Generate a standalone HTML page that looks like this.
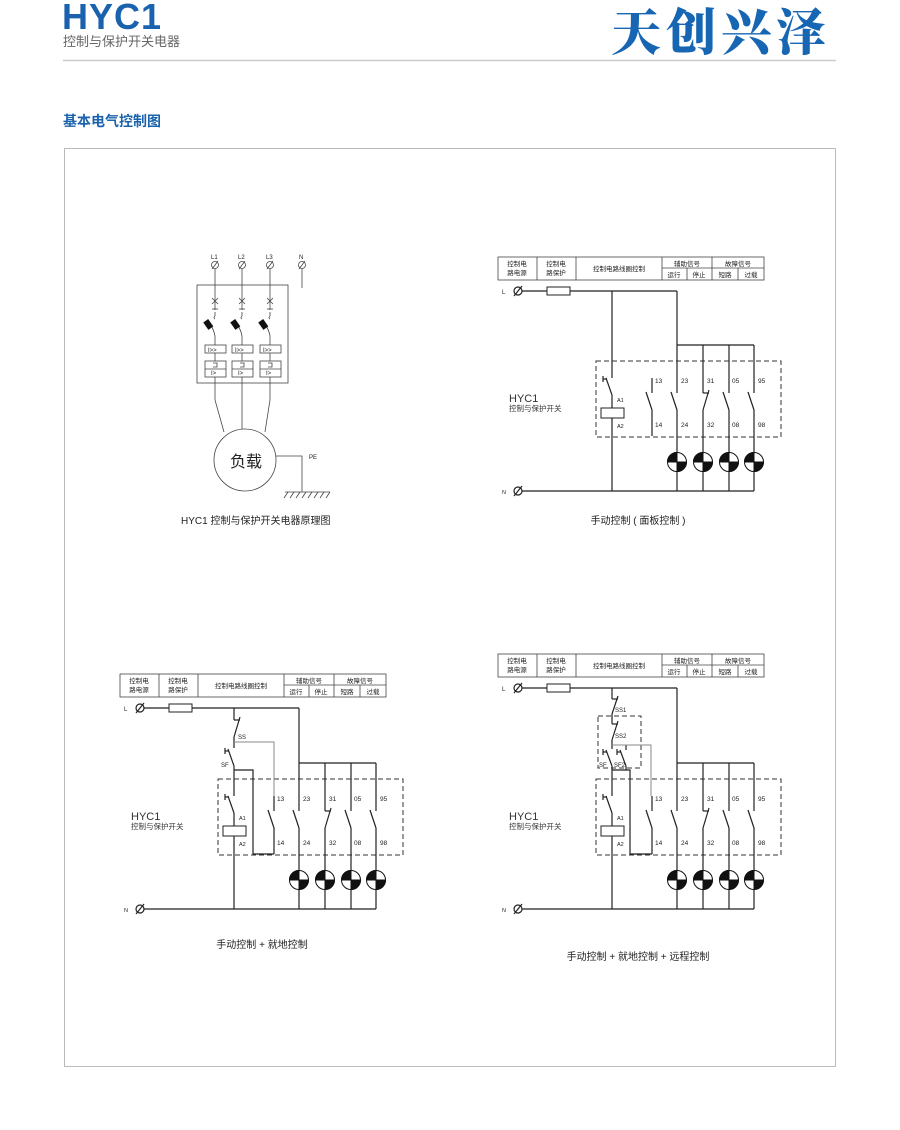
<!DOCTYPE html>
<html><head><meta charset="utf-8"><style>
html,body{margin:0;padding:0;background:#fff}
svg{display:block}
text{font-family:"Liberation Sans","Noto Sans CJK SC",sans-serif;fill:#222}
</style></head><body>
<svg width="900" height="1130" viewBox="0 0 900 1130" xmlns="http://www.w3.org/2000/svg">
<!-- header -->
<text x="62" y="29" style="font-family:'Liberation Sans',sans-serif;font-weight:900;font-size:36px;fill:#1a62ad;letter-spacing:1px">HYC1</text>
<text x="63" y="46" style="font-size:13px;fill:#666">控制与保护开关电器</text>
<text x="611" y="50" style="font-family:'Noto Serif CJK SC',serif;font-weight:900;font-size:50px;fill:#1766b3;letter-spacing:5px">天创兴泽</text>
<line x1="63" y1="60.5" x2="836" y2="60.5" stroke="#ccc" stroke-width="1.5"/>
<text x="63" y="126" style="font-size:14px;font-weight:bold;fill:#1a62ad">基本电气控制图</text>
<rect x="64.5" y="148.5" width="771" height="918" fill="none" stroke="#bbb" stroke-width="1"/>

<!-- Diagram 1 -->
<g stroke="#444" stroke-width="0.8" fill="none">
<rect x="197" y="285" width="91" height="98"/>
<circle cx="215" cy="265" r="3.5"/><circle cx="242" cy="265" r="3.5"/><circle cx="270" cy="265" r="3.5"/><circle cx="302" cy="265" r="3.5"/>
<line x1="212" y1="269" x2="218" y2="261"/><line x1="239" y1="269" x2="245" y2="261"/><line x1="267" y1="269" x2="273" y2="261"/><line x1="299" y1="269" x2="305" y2="261"/>
<line x1="302" y1="269" x2="302" y2="288"/>
<g id="p1">
<line x1="215" y1="269" x2="215" y2="310"/>
<line x1="212" y1="298" x2="218" y2="304"/><line x1="218" y1="298" x2="212" y2="304"/>
<line x1="212" y1="309" x2="218" y2="309"/><path d="M215 312 L215 316 Q213 318 215 319"/>
<path d="M210 324 Q214 330 215 336 L215 345"/>
<rect x="205" y="345" width="21" height="8"/>
<line x1="215" y1="353" x2="215" y2="361"/>
<rect x="205" y="361" width="21" height="16"/><line x1="205" y1="369" x2="226" y2="369"/>
<path d="M213 363 L217 363 L217 367 L213 367"/>
</g>
<g transform="translate(27,0)"><line x1="215" y1="269" x2="215" y2="310"/>
<line x1="212" y1="298" x2="218" y2="304"/><line x1="218" y1="298" x2="212" y2="304"/>
<line x1="212" y1="309" x2="218" y2="309"/><path d="M215 312 L215 316 Q213 318 215 319"/>
<path d="M210 324 Q214 330 215 336 L215 345"/>
<rect x="205" y="345" width="21" height="8"/>
<line x1="215" y1="353" x2="215" y2="361"/>
<rect x="205" y="361" width="21" height="16"/><line x1="205" y1="369" x2="226" y2="369"/>
<path d="M213 363 L217 363 L217 367 L213 367"/></g>
<g transform="translate(55,0)"><line x1="215" y1="269" x2="215" y2="310"/>
<line x1="212" y1="298" x2="218" y2="304"/><line x1="218" y1="298" x2="212" y2="304"/>
<line x1="212" y1="309" x2="218" y2="309"/><path d="M215 312 L215 316 Q213 318 215 319"/>
<path d="M210 324 Q214 330 215 336 L215 345"/>
<rect x="205" y="345" width="21" height="8"/>
<line x1="215" y1="353" x2="215" y2="361"/>
<rect x="205" y="361" width="21" height="16"/><line x1="205" y1="369" x2="226" y2="369"/>
<path d="M213 363 L217 363 L217 367 L213 367"/></g>
<polyline points="215,377 215,400 224,432"/>
<line x1="242" y1="377" x2="242" y2="429"/>
<polyline points="270,377 270,400 265,432"/>
<circle cx="245" cy="460" r="31"/>
<polyline points="276,456 302,456 302,492"/>
<line x1="285" y1="492" x2="330" y2="492"/>
<path d="M288 492 l-4 6 M294 492 l-4 6 M300 492 l-4 6 M306 492 l-4 6 M312 492 l-4 6 M318 492 l-4 6 M324 492 l-4 6 M330 492 l-4 6"/>
</g>
<g fill="#111">
<rect x="205" y="320" width="6" height="9" transform="rotate(-35 208 324)"/>
<rect x="232" y="320" width="6" height="9" transform="rotate(-35 235 324)"/>
<rect x="260" y="320" width="6" height="9" transform="rotate(-35 263 324)"/>
</g>
<g style="font-size:6px">
<text x="211" y="259">L1</text><text x="238" y="259">L2</text><text x="266" y="259">L3</text><text x="299" y="259">N</text>
<text x="208" y="352">I&gt;&gt;</text><text x="235" y="352">I&gt;&gt;</text><text x="263" y="352">I&gt;&gt;</text>
<text x="211" y="375">I&gt;</text><text x="238" y="375">I&gt;</text><text x="266" y="375">I&gt;</text>
<text x="309" y="459">PE</text>
</g>
<text x="230" y="467" style="font-size:16px">负载</text>
<text x="181" y="524" style="font-size:10px">HYC1  控制与保护开关电器原理图</text>

<!-- Diagram 2: header B -->
<g id="B2">
<g stroke="#444" stroke-width="0.8" fill="none">
<rect x="498" y="257" width="266" height="23"/>
<line x1="537" y1="257" x2="537" y2="280"/><line x1="576" y1="257" x2="576" y2="280"/><line x1="662" y1="257" x2="662" y2="280"/>
<line x1="662" y1="268" x2="764" y2="268"/><line x1="687" y1="268" x2="687" y2="280"/><line x1="712" y1="257" x2="712" y2="280"/><line x1="738" y1="268" x2="738" y2="280"/>
</g>
<g style="font-size:6.5px" text-anchor="middle">
<text x="517" y="266">控制电</text><text x="517" y="275">路电源</text>
<text x="556" y="266">控制电</text><text x="556" y="275">路保护</text>
<text x="619" y="271">控制电路线圈控制</text>
<text x="687" y="266">辅助信号</text><text x="738" y="266">故障信号</text>
<text x="674" y="277">运行</text><text x="699" y="277">停止</text><text x="725" y="277">短路</text><text x="751" y="277">过载</text>
</g>
<text x="502" y="294" style="font-size:6px">L</text>
<g stroke="#222" stroke-width="1.2" fill="none">
<circle cx="518" cy="291" r="4"/><line x1="514" y1="296" x2="522" y2="286"/>
<line x1="522" y1="291" x2="547" y2="291"/>
<rect x="547" y="287" width="23" height="8" stroke-width="1"/>
<line x1="570" y1="291" x2="677" y2="291"/>
</g>
</g>
<!-- Diagram 2 body A -->
<g id="A2">
<rect x="596" y="361" width="185" height="76" fill="none" stroke="#333" stroke-width="1" stroke-dasharray="5,3"/>
<g stroke="#222" stroke-width="1.2" fill="none">
<line x1="612" y1="375" x2="612" y2="378"/><line x1="603" y1="379" x2="607" y2="379"/><line x1="603" y1="376" x2="603" y2="382"/>
<line x1="606" y1="378" x2="612" y2="395"/><line x1="612" y1="395" x2="612" y2="408"/>
<rect x="601" y="408" width="23" height="10" stroke-width="1"/>
<line x1="612" y1="418" x2="612" y2="491"/>
<line x1="652" y1="378" x2="652" y2="393"/><line x1="646" y1="392" x2="652" y2="410"/><line x1="652" y1="410" x2="652" y2="436"/>
<line x1="677" y1="345" x2="754" y2="345"/>
<line x1="677" y1="345" x2="677" y2="393"/><line x1="671" y1="392" x2="677" y2="410"/><line x1="677" y1="410" x2="677" y2="491"/>
<line x1="703" y1="345" x2="703" y2="393"/><line x1="703" y1="393" x2="709" y2="393"/><line x1="709" y1="390" x2="703" y2="410"/><line x1="703" y1="410" x2="703" y2="491"/>
<line x1="729" y1="345" x2="729" y2="393"/><line x1="723" y1="392" x2="729" y2="410"/><line x1="729" y1="410" x2="729" y2="491"/>
<line x1="754" y1="345" x2="754" y2="393"/><line x1="748" y1="392" x2="754" y2="410"/><line x1="754" y1="410" x2="754" y2="491"/>
<circle cx="518" cy="491" r="4"/><line x1="514" y1="496" x2="522" y2="486"/>
<line x1="522" y1="491" x2="754" y2="491"/>
</g>
<g stroke="#111" stroke-width="1">
<circle cx="677" cy="462" r="9.5" fill="#fff"/><path d="M677 462 L677 452.5 A9.5 9.5 0 0 0 667.5 462 Z M677 462 L686.5 462 A9.5 9.5 0 0 1 677 471.5 Z" fill="#111"/>
<circle cx="703" cy="462" r="9.5" fill="#fff"/><path d="M703 462 L703 452.5 A9.5 9.5 0 0 0 693.5 462 Z M703 462 L712.5 462 A9.5 9.5 0 0 1 703 471.5 Z" fill="#111"/>
<circle cx="729" cy="462" r="9.5" fill="#fff"/><path d="M729 462 L729 452.5 A9.5 9.5 0 0 0 719.5 462 Z M729 462 L738.5 462 A9.5 9.5 0 0 1 729 471.5 Z" fill="#111"/>
<circle cx="754" cy="462" r="9.5" fill="#fff"/><path d="M754 462 L754 452.5 A9.5 9.5 0 0 0 744.5 462 Z M754 462 L763.5 462 A9.5 9.5 0 0 1 754 471.5 Z" fill="#111"/>
</g>
<g style="font-size:6.5px">
<text x="655" y="383">13</text><text x="681" y="383">23</text><text x="707" y="383">31</text><text x="732" y="383">05</text><text x="758" y="383">95</text>
<text x="655" y="427">14</text><text x="681" y="427">24</text><text x="707" y="427">32</text><text x="732" y="427">08</text><text x="758" y="427">98</text>
<text x="617" y="402" style="font-size:5.5px">A1</text><text x="617" y="428" style="font-size:5.5px">A2</text>
<text x="502" y="494" style="font-size:5.5px">N</text>
</g>
<text x="509" y="402" style="font-size:11px;fill:#333">HYC1</text>
<text x="509" y="411" style="font-size:7.5px;fill:#333">控制与保护开关</text>
</g>
<g stroke="#222" stroke-width="1.2">
<line x1="612" y1="291" x2="612" y2="375"/><line x1="677" y1="291" x2="677" y2="345"/>
</g>
<text x="638" y="524" text-anchor="middle" style="font-size:10px">手动控制 ( 面板控制 )</text>

<!-- Diagram 3 -->
<g transform="translate(-378,417)">
<g stroke="#444" stroke-width="0.8" fill="none">
<rect x="498" y="257" width="266" height="23"/>
<line x1="537" y1="257" x2="537" y2="280"/><line x1="576" y1="257" x2="576" y2="280"/><line x1="662" y1="257" x2="662" y2="280"/>
<line x1="662" y1="268" x2="764" y2="268"/><line x1="687" y1="268" x2="687" y2="280"/><line x1="712" y1="257" x2="712" y2="280"/><line x1="738" y1="268" x2="738" y2="280"/>
</g>
<g style="font-size:6.5px" text-anchor="middle">
<text x="517" y="266">控制电</text><text x="517" y="275">路电源</text>
<text x="556" y="266">控制电</text><text x="556" y="275">路保护</text>
<text x="619" y="271">控制电路线圈控制</text>
<text x="687" y="266">辅助信号</text><text x="738" y="266">故障信号</text>
<text x="674" y="277">运行</text><text x="699" y="277">停止</text><text x="725" y="277">短路</text><text x="751" y="277">过载</text>
</g>
<text x="502" y="294" style="font-size:6px">L</text>
<g stroke="#222" stroke-width="1.2" fill="none">
<circle cx="518" cy="291" r="4"/><line x1="514" y1="296" x2="522" y2="286"/>
<line x1="522" y1="291" x2="547" y2="291"/>
<rect x="547" y="287" width="23" height="8" stroke-width="1"/>
<line x1="570" y1="291" x2="677" y2="291"/>
</g>
</g>
<g transform="translate(-378,418)">
<rect x="596" y="361" width="185" height="76" fill="none" stroke="#333" stroke-width="1" stroke-dasharray="5,3"/>
<g stroke="#222" stroke-width="1.2" fill="none">
<line x1="612" y1="375" x2="612" y2="378"/><line x1="603" y1="379" x2="607" y2="379"/><line x1="603" y1="376" x2="603" y2="382"/>
<line x1="606" y1="378" x2="612" y2="395"/><line x1="612" y1="395" x2="612" y2="408"/>
<rect x="601" y="408" width="23" height="10" stroke-width="1"/>
<line x1="612" y1="418" x2="612" y2="491"/>
<line x1="652" y1="378" x2="652" y2="393"/><line x1="646" y1="392" x2="652" y2="410"/><line x1="652" y1="410" x2="652" y2="436"/>
<line x1="677" y1="345" x2="754" y2="345"/>
<line x1="677" y1="345" x2="677" y2="393"/><line x1="671" y1="392" x2="677" y2="410"/><line x1="677" y1="410" x2="677" y2="491"/>
<line x1="703" y1="345" x2="703" y2="393"/><line x1="703" y1="393" x2="709" y2="393"/><line x1="709" y1="390" x2="703" y2="410"/><line x1="703" y1="410" x2="703" y2="491"/>
<line x1="729" y1="345" x2="729" y2="393"/><line x1="723" y1="392" x2="729" y2="410"/><line x1="729" y1="410" x2="729" y2="491"/>
<line x1="754" y1="345" x2="754" y2="393"/><line x1="748" y1="392" x2="754" y2="410"/><line x1="754" y1="410" x2="754" y2="491"/>
<circle cx="518" cy="491" r="4"/><line x1="514" y1="496" x2="522" y2="486"/>
<line x1="522" y1="491" x2="754" y2="491"/>
</g>
<g stroke="#111" stroke-width="1">
<circle cx="677" cy="462" r="9.5" fill="#fff"/><path d="M677 462 L677 452.5 A9.5 9.5 0 0 0 667.5 462 Z M677 462 L686.5 462 A9.5 9.5 0 0 1 677 471.5 Z" fill="#111"/>
<circle cx="703" cy="462" r="9.5" fill="#fff"/><path d="M703 462 L703 452.5 A9.5 9.5 0 0 0 693.5 462 Z M703 462 L712.5 462 A9.5 9.5 0 0 1 703 471.5 Z" fill="#111"/>
<circle cx="729" cy="462" r="9.5" fill="#fff"/><path d="M729 462 L729 452.5 A9.5 9.5 0 0 0 719.5 462 Z M729 462 L738.5 462 A9.5 9.5 0 0 1 729 471.5 Z" fill="#111"/>
<circle cx="754" cy="462" r="9.5" fill="#fff"/><path d="M754 462 L754 452.5 A9.5 9.5 0 0 0 744.5 462 Z M754 462 L763.5 462 A9.5 9.5 0 0 1 754 471.5 Z" fill="#111"/>
</g>
<g style="font-size:6.5px">
<text x="655" y="383">13</text><text x="681" y="383">23</text><text x="707" y="383">31</text><text x="732" y="383">05</text><text x="758" y="383">95</text>
<text x="655" y="427">14</text><text x="681" y="427">24</text><text x="707" y="427">32</text><text x="732" y="427">08</text><text x="758" y="427">98</text>
<text x="617" y="402" style="font-size:5.5px">A1</text><text x="617" y="428" style="font-size:5.5px">A2</text>
<text x="502" y="494" style="font-size:5.5px">N</text>
</g>
<text x="509" y="402" style="font-size:11px;fill:#333">HYC1</text>
<text x="509" y="411" style="font-size:7.5px;fill:#333">控制与保护开关</text>
</g>
<g stroke="#222" stroke-width="1.2" fill="none">
<line x1="299" y1="708" x2="299" y2="763"/>
<line x1="234" y1="708" x2="234" y2="720"/><line x1="234" y1="720" x2="240" y2="720"/><line x1="240" y1="717" x2="234" y2="737"/>
<line x1="234" y1="737" x2="234" y2="748"/>
<line x1="225" y1="751" x2="229" y2="751"/><line x1="225" y1="748" x2="225" y2="754"/><line x1="228" y1="749" x2="234" y2="766"/>
<line x1="234" y1="766" x2="234" y2="793"/>
<polyline points="234,770 253,770 253,854 274,854"/>
</g>
<polyline points="234,742 274,742 274,796" fill="none" stroke="#888" stroke-width="1"/>
<text x="238" y="739" style="font-size:6px">SS</text><text x="221" y="767" style="font-size:6px">SF</text>
<text x="262" y="948" text-anchor="middle" style="font-size:10px">手动控制 + 就地控制</text>

<!-- Diagram 4 -->
<g transform="translate(0,397)">
<g stroke="#444" stroke-width="0.8" fill="none">
<rect x="498" y="257" width="266" height="23"/>
<line x1="537" y1="257" x2="537" y2="280"/><line x1="576" y1="257" x2="576" y2="280"/><line x1="662" y1="257" x2="662" y2="280"/>
<line x1="662" y1="268" x2="764" y2="268"/><line x1="687" y1="268" x2="687" y2="280"/><line x1="712" y1="257" x2="712" y2="280"/><line x1="738" y1="268" x2="738" y2="280"/>
</g>
<g style="font-size:6.5px" text-anchor="middle">
<text x="517" y="266">控制电</text><text x="517" y="275">路电源</text>
<text x="556" y="266">控制电</text><text x="556" y="275">路保护</text>
<text x="619" y="271">控制电路线圈控制</text>
<text x="687" y="266">辅助信号</text><text x="738" y="266">故障信号</text>
<text x="674" y="277">运行</text><text x="699" y="277">停止</text><text x="725" y="277">短路</text><text x="751" y="277">过载</text>
</g>
<text x="502" y="294" style="font-size:6px">L</text>
<g stroke="#222" stroke-width="1.2" fill="none">
<circle cx="518" cy="291" r="4"/><line x1="514" y1="296" x2="522" y2="286"/>
<line x1="522" y1="291" x2="547" y2="291"/>
<rect x="547" y="287" width="23" height="8" stroke-width="1"/>
<line x1="570" y1="291" x2="677" y2="291"/>
</g>
</g>
<g transform="translate(0,418)">
<rect x="596" y="361" width="185" height="76" fill="none" stroke="#333" stroke-width="1" stroke-dasharray="5,3"/>
<g stroke="#222" stroke-width="1.2" fill="none">
<line x1="612" y1="375" x2="612" y2="378"/><line x1="603" y1="379" x2="607" y2="379"/><line x1="603" y1="376" x2="603" y2="382"/>
<line x1="606" y1="378" x2="612" y2="395"/><line x1="612" y1="395" x2="612" y2="408"/>
<rect x="601" y="408" width="23" height="10" stroke-width="1"/>
<line x1="612" y1="418" x2="612" y2="491"/>
<line x1="652" y1="378" x2="652" y2="393"/><line x1="646" y1="392" x2="652" y2="410"/><line x1="652" y1="410" x2="652" y2="436"/>
<line x1="677" y1="345" x2="754" y2="345"/>
<line x1="677" y1="345" x2="677" y2="393"/><line x1="671" y1="392" x2="677" y2="410"/><line x1="677" y1="410" x2="677" y2="491"/>
<line x1="703" y1="345" x2="703" y2="393"/><line x1="703" y1="393" x2="709" y2="393"/><line x1="709" y1="390" x2="703" y2="410"/><line x1="703" y1="410" x2="703" y2="491"/>
<line x1="729" y1="345" x2="729" y2="393"/><line x1="723" y1="392" x2="729" y2="410"/><line x1="729" y1="410" x2="729" y2="491"/>
<line x1="754" y1="345" x2="754" y2="393"/><line x1="748" y1="392" x2="754" y2="410"/><line x1="754" y1="410" x2="754" y2="491"/>
<circle cx="518" cy="491" r="4"/><line x1="514" y1="496" x2="522" y2="486"/>
<line x1="522" y1="491" x2="754" y2="491"/>
</g>
<g stroke="#111" stroke-width="1">
<circle cx="677" cy="462" r="9.5" fill="#fff"/><path d="M677 462 L677 452.5 A9.5 9.5 0 0 0 667.5 462 Z M677 462 L686.5 462 A9.5 9.5 0 0 1 677 471.5 Z" fill="#111"/>
<circle cx="703" cy="462" r="9.5" fill="#fff"/><path d="M703 462 L703 452.5 A9.5 9.5 0 0 0 693.5 462 Z M703 462 L712.5 462 A9.5 9.5 0 0 1 703 471.5 Z" fill="#111"/>
<circle cx="729" cy="462" r="9.5" fill="#fff"/><path d="M729 462 L729 452.5 A9.5 9.5 0 0 0 719.5 462 Z M729 462 L738.5 462 A9.5 9.5 0 0 1 729 471.5 Z" fill="#111"/>
<circle cx="754" cy="462" r="9.5" fill="#fff"/><path d="M754 462 L754 452.5 A9.5 9.5 0 0 0 744.5 462 Z M754 462 L763.5 462 A9.5 9.5 0 0 1 754 471.5 Z" fill="#111"/>
</g>
<g style="font-size:6.5px">
<text x="655" y="383">13</text><text x="681" y="383">23</text><text x="707" y="383">31</text><text x="732" y="383">05</text><text x="758" y="383">95</text>
<text x="655" y="427">14</text><text x="681" y="427">24</text><text x="707" y="427">32</text><text x="732" y="427">08</text><text x="758" y="427">98</text>
<text x="617" y="402" style="font-size:5.5px">A1</text><text x="617" y="428" style="font-size:5.5px">A2</text>
<text x="502" y="494" style="font-size:5.5px">N</text>
</g>
<text x="509" y="402" style="font-size:11px;fill:#333">HYC1</text>
<text x="509" y="411" style="font-size:7.5px;fill:#333">控制与保护开关</text>
</g>
<g stroke="#222" stroke-width="1.2" fill="none">
<line x1="677" y1="688" x2="677" y2="763"/>
<line x1="612" y1="688" x2="612" y2="699"/><line x1="612" y1="699" x2="618" y2="699"/><line x1="618" y1="696" x2="612" y2="714"/>
<line x1="612" y1="714" x2="612" y2="724"/><line x1="612" y1="724" x2="618" y2="724"/><line x1="618" y1="721" x2="612" y2="740"/>
<line x1="612" y1="740" x2="612" y2="749"/>
<line x1="603" y1="752" x2="607" y2="752"/><line x1="603" y1="749" x2="603" y2="755"/><line x1="606" y1="750" x2="612" y2="766"/>
<line x1="612" y1="766" x2="612" y2="793"/>
<line x1="626" y1="745" x2="626" y2="750"/>
<line x1="617" y1="752" x2="621" y2="752"/><line x1="617" y1="749" x2="617" y2="755"/><line x1="620" y1="750" x2="626" y2="766"/>
<polyline points="612,770 630,770 630,854 652,854"/>
<line x1="626" y1="766" x2="626" y2="770"/>
</g>
<rect x="598" y="716" width="43" height="52" fill="none" stroke="#333" stroke-width="1" stroke-dasharray="5,3"/>
<polyline points="612,745 651,745 651,796" fill="none" stroke="#888" stroke-width="1"/>
<g style="font-size:6px"><text x="615" y="712">SS1</text><text x="615" y="738">SS2</text><text x="599" y="767">SF</text><text x="614" y="767">SF2</text></g>
<text x="638" y="960" text-anchor="middle" style="font-size:10px">手动控制 + 就地控制 + 远程控制</text>
</svg>
</body></html>
